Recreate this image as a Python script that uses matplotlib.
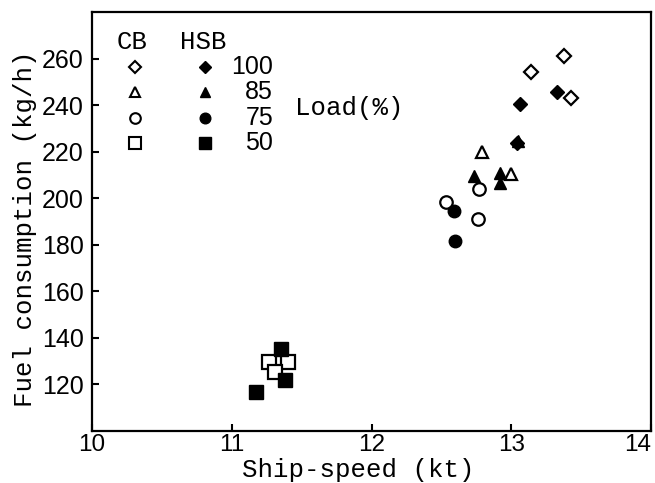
import matplotlib
matplotlib.use("Agg")
import matplotlib.pyplot as plt

# Data
loads = ["100", "85", "75", "50"]
markers = ["D", "^", "o", "s"]

cb_x = {
    "100": [13.38, 13.14, 13.43],
    "85": [12.79, 13.00],
    "75": [12.77, 12.53, 12.76],
    "50": [11.27, 11.40, 11.31],
}
cb_y = {
    "100": [261.0, 254.2, 243.1],
    "85": [220.0, 210.3],
    "75": [203.9, 198.2, 191.1],
    "50": [129.7, 129.7, 125.4],
}
hsb_x = {
    "100": [13.33, 13.06, 13.04],
    "85": [12.73, 12.92, 12.92, 13.05],
    "75": [12.59, 12.60],
    "50": [11.35, 11.38, 11.17],
}
hsb_y = {
    "100": [245.7, 240.5, 223.8],
    "85": [209.6, 211.0, 206.7, 224.5],
    "75": [194.3, 181.8],
    "50": [135.4, 122.1, 116.8],
}

x_ticks = [10, 11, 12, 13, 14]
y_ticks = [120, 140, 160, 180, 200, 220, 240, 260]

mono = "Liberation Mono"
sans = "Liberation Sans"

fig = plt.figure(figsize=(6.55, 4.83), dpi=100)
ax = fig.add_axes([92 / 655, 52 / 483, 559 / 655, 419 / 483])

sizes = {"D": 7, "^": 8.5, "o": 9, "s": 9.5}
for ld, m in zip(loads, markers):
    ax.plot(cb_x[ld], cb_y[ld], linestyle="none", marker=m, ms=sizes[m],
            mfc="white", mec="black", mew=1.6, zorder=3)
for ld, m in zip(loads, markers):
    ax.plot(hsb_x[ld], hsb_y[ld], linestyle="none", marker=m, ms=sizes[m],
            mfc="black", mec="black", mew=1.0, zorder=4)

ax.set_xlim(10, 14)
ax.set_ylim(100, 280)
ax.set_xticks(x_ticks)
ax.set_yticks(y_ticks)
xl = ax.set_xticklabels([str(t) for t in x_ticks], fontfamily=sans, fontsize=17.5)
xl[-1].set_ha("right")
ax.set_yticklabels([str(t) for t in y_ticks], fontfamily=sans, fontsize=18)
ax.tick_params(axis="both", direction="in", length=5, width=1.5)
ax.tick_params(axis="x", pad=2.5)
ax.tick_params(axis="y", pad=6)
for s in ax.spines.values():
    s.set_linewidth(1.6)

ax.set_xlabel("Ship-speed (kt)", fontfamily=mono, fontsize=18.5)
ax.xaxis.set_label_coords(0.476, -0.094)
ax.xaxis.label.set_va("center")
ax.set_ylabel("Fuel consumption (kg/h)", fontfamily=mono, fontsize=18.5)
ax.yaxis.set_label_coords(-0.12, 0.482)
ax.yaxis.label.set_va("center")

# Legend-like key
tr = ax.transAxes
ax.text(0.0716, 0.928, "CB", transform=tr, ha="center", va="center",
        fontfamily=mono, fontsize=18.5)
ax.text(0.199, 0.928, "HSB", transform=tr, ha="center", va="center",
        fontfamily=mono, fontsize=18.5)
rows_y = [0.869, 0.810, 0.747, 0.687]
for ld, m, ry in zip(loads, markers, rows_y):
    ax.plot([0.077], [ry], transform=tr, linestyle="none", marker=m,
            ms=sizes[m] * 0.85, mfc="white", mec="black", mew=1.5, clip_on=False)
    ax.plot([0.202], [ry], transform=tr, linestyle="none", marker=m,
            ms=sizes[m] * 0.85, mfc="black", mec="black", mew=1.0, clip_on=False)
    ax.text(0.324, ry, ld, transform=tr, ha="right", va="center",
            fontfamily=sans, fontsize=18)
ax.text(0.363, 0.771, "Load(%)", transform=tr, ha="left", va="center",
        fontfamily=mono, fontsize=18.5)

fig.savefig("out.png", dpi=100)
